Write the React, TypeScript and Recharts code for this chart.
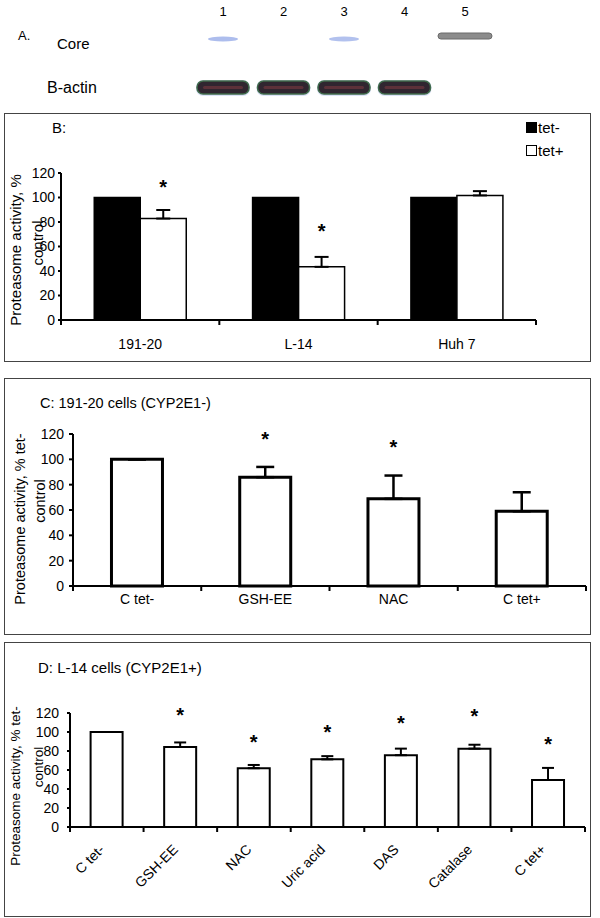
import React from 'react';
import {
  ComposedChart,
  Bar,
  XAxis,
  YAxis,
  ErrorBar,
  Legend,
  ScatterChart,
  Scatter,
} from 'recharts';

const FONT = '"Liberation Sans", Arial, Helvetica, sans-serif';

// A: western blot, relative band signal per lane
const lanes = [1, 2, 3, 4, 5];
const coreSignal = [0.35, 0, 0.3, 0, 1];
const actinSignal = [1, 1, 1, 1, 0];

// B: proteasome activity, tet- vs tet+
const cellLines = ['191-20', 'L-14', 'Huh 7'];
const tetMinus = [100, 100, 100];
const tetPlus = [82.8, 43.4, 101.7];
const tetPlusErr = [7, 8.1, 3.5];
const tetPlusStar = [112, 76, null];

// C: 191-20 cells (CYP2E1-)
const cTreatments = ['C tet-', 'GSH-EE', 'NAC', 'C tet+'];
const cActivity = [100, 85.9, 68.8, 59];
const cErr = [0, 8.1, 18.4, 15];
const cStar = [null, 119.5, 113, null];

// D: L-14 cells (CYP2E1+)
const dTreatments = ['C tet-', 'GSH-EE', 'NAC', 'Uric acid', 'DAS', 'Catalase', 'C tet+'];
const dActivity = [100, 84.2, 61.9, 71.2, 75.6, 82.5, 49.5];
const dErr = [0, 4.8, 3.4, 3.4, 6.9, 4.1, 12.7];
const dStar = [null, 122.1, 94.2, 104.6, 113.4, 121.3, 91.1];

const yTicks = [0, 20, 40, 60, 80, 100, 120];
const legendOrder = ['tet-', 'tet+'];

const blotData = [
  ...lanes.map((lane, i) => ({ lane, row: 1, signal: coreSignal[i], band: 'core' })),
  ...lanes.map((lane, i) => ({ lane, row: 0, signal: actinSignal[i], band: 'actin' })),
].filter((d) => d.signal > 0);

const bData = cellLines.map((name, i) => ({
  name,
  tetMinus: tetMinus[i],
  tetPlus: tetPlus[i],
  err: [0, tetPlusErr[i]],
}));

const cData = cTreatments.map((name, i) => ({ name, value: cActivity[i], err: [0, cErr[i]] }));
const dData = dTreatments.map((name, i) => ({ name, value: dActivity[i], err: [0, dErr[i]] }));

const axisStroke = { stroke: '#000', strokeWidth: 2 };
const tickFont = { fill: '#000', fontSize: 14, fontFamily: FONT };

const renderBand = (props: any) => {
  const { cx, cy, payload } = props;
  if (payload.band === 'core') {
    if (payload.signal >= 1) {
      return <rect x={cx - 27} y={cy - 5} width={54} height={6} rx={3} fill="#8c8c8c" stroke="#6b6b6b" />;
    }
    return <ellipse cx={cx} cy={cy + 1} rx={15} ry={2.5} fill="#9fb2ea" opacity={0.5 + payload.signal} />;
  }
  return (
    <g>
      <rect x={cx - 27} y={cy - 8} width={54} height={16} rx={7} fill="#b8c4f0" opacity={0.5} />
      <rect x={cx - 26} y={cy - 7} width={52} height={13} rx={6} fill="#302630" stroke="#3f6a4a" strokeWidth={1.5} />
      <rect x={cx - 20} y={cy - 2} width={40} height={3} rx={1.5} fill="#7a3840" opacity={0.6} />
    </g>
  );
};

// category label plus the tick marks between categories (Excel style)
const categoryTick = (gap: number, angle = 0) => (props: any) => {
  const { x, y, payload, index, visibleTicksCount, width } = props;
  const band = payload && payload.offset ? payload.offset * 2 : width / visibleTicksCount;
  const axisY = y - gap;
  const marks = [x - band / 2];
  if (index === visibleTicksCount - 1) marks.push(x + band / 2);
  const tx = angle ? x - 5 : x;
  return (
    <g>
      {marks.map((mx) => (
        <line key={mx} x1={mx} x2={mx} y1={axisY} y2={axisY + 5} stroke="#000" strokeWidth={2} />
      ))}
      {angle ? (
        <text
          x={tx}
          y={y}
          dy="0.35em"
          textAnchor="end"
          transform={`rotate(${angle} ${tx} ${y})`}
          fontSize={14}
          fontFamily={FONT}
          fill="#000"
        >
          {payload.value}
        </text>
      ) : (
        <text x={x} y={y} dy="0.71em" textAnchor="middle" fontSize={14} fontFamily={FONT} fill="#000">
          {payload.value}
        </text>
      )}
    </g>
  );
};

// asterisk placed at a given activity level above the bar
const starLabel = (values: number[], stars: (number | null)[]) => (props: any) => {
  const index = props.index;
  const star = stars[index];
  if (star == null) return null;
  const vb = props.viewBox ?? props;
  const { x, y, width, height } = vb;
  const base = y + height;
  const cy = base - (star * height) / values[index];
  return (
    <text x={x + width / 2} y={cy + 11} textAnchor="middle" fontSize={20} fontWeight="bold" fontFamily={FONT} fill="#000">
      *
    </text>
  );
};

const yLabel = (lines: { text: string; x: number; y: number }[], fontSize: number) => () => (
  <g>
    {lines.map((l) => (
      <text
        key={l.text}
        x={l.x}
        y={l.y}
        transform={`rotate(-90 ${l.x} ${l.y})`}
        textAnchor="middle"
        dominantBaseline="central"
        fontSize={fontSize}
        fontFamily={FONT}
        fill="#000"
      >
        {l.text}
      </text>
    ))}
  </g>
);

const renderLegend = (props: any) => {
  const items = [...(props.payload || [])].sort(
    (a: any, b: any) => legendOrder.indexOf(a.value) - legendOrder.indexOf(b.value)
  );
  return (
    <div style={{ fontFamily: FONT, fontSize: 15, color: '#000' }}>
      {items.map((entry: any) => (
        <div key={entry.value} style={{ display: 'flex', alignItems: 'center', height: 23 }}>
          <span
            style={{
              display: 'inline-block',
              width: 9,
              height: 9,
              background: entry.color,
              border: '1px solid #000',
              marginRight: 1,
            }}
          />
          <span>{entry.value}</span>
        </div>
      ))}
    </div>
  );
};

const boxStyle = (top: number, height: number): React.CSSProperties => ({
  position: 'absolute',
  left: 4,
  top,
  width: 587,
  height,
  border: '1px solid #444',
  boxSizing: 'border-box',
});

const textAt = (left: number, centerY: number, fontSize: number): React.CSSProperties => ({
  position: 'absolute',
  left,
  top: centerY - fontSize / 2,
  fontSize,
  lineHeight: `${fontSize}px`,
  fontFamily: FONT,
  color: '#000',
  whiteSpace: 'nowrap',
});

const place = (top: number): React.CSSProperties => ({ position: 'absolute', left: 0, top });

export default function App() {
  return (
    <div
      style={{
        position: 'absolute',
        left: 0,
        top: 0,
        width: 600,
        height: 918,
        background: '#fff',
        overflow: 'hidden',
      }}
    >
      {/* A: blot */}
      <div style={textAt(18, 35, 13)}>A.</div>
      <div style={textAt(57, 43, 15)}>Core</div>
      <div style={textAt(47, 88, 16)}>B-actin</div>
      <div style={place(0)}>
        <ScatterChart width={600} height={110} margin={{ top: 18, right: 135, bottom: 22, left: 223 }}>
          <XAxis
            dataKey="lane"
            type="number"
            domain={[1, 5]}
            ticks={lanes}
            orientation="top"
            height={20}
            axisLine={false}
            tickLine={false}
            tickSize={0}
            tickMargin={22}
            tick={{ fill: '#000', fontSize: 13, fontFamily: FONT }}
          />
          <YAxis dataKey="row" type="number" domain={[0, 1]} hide />
          <Scatter data={blotData} shape={renderBand} isAnimationActive={false} />
        </ScatterChart>
      </div>

      {/* B */}
      <div style={boxStyle(113, 249)} />
      <div style={textAt(52, 127, 15)}>B:</div>
      <div style={place(112)}>
        <ComposedChart
          width={600}
          height={250}
          data={bData}
          margin={{ top: 61, right: 64, bottom: 41, left: 0 }}
          barCategoryGap="21%"
          barGap={0}
        >
          <XAxis
            dataKey="name"
            height={1}
            interval={0}
            axisLine={axisStroke}
            tickLine={false}
            tickSize={0}
            tickMargin={19}
            tick={categoryTick(19)}
          />
          <YAxis
            width={61}
            domain={[0, 120]}
            ticks={yTicks}
            interval={0}
            tickSize={3}
            tickMargin={3}
            tick={tickFont}
            axisLine={axisStroke}
            tickLine={axisStroke}
            label={yLabel(
              [
                { text: 'Proteasome activity, %', x: 15, y: 138 },
                { text: 'control', x: 37, y: 131 },
              ],
              15
            )}
          />
          <Legend
            layout="horizontal"
            verticalAlign="middle"
            align="center"
            content={renderLegend}
            wrapperStyle={{ left: 526, top: 4, width: 60, height: 46 }}
          />
          <Bar dataKey="tetMinus" name="tet-" fill="#000" stroke="#000" strokeWidth={1.5} isAnimationActive={false} />
          <Bar
            dataKey="tetPlus"
            name="tet+"
            fill="#fff"
            stroke="#000"
            strokeWidth={1.5}
            isAnimationActive={false}
            label={starLabel(tetPlus, tetPlusStar)}
          >
            <ErrorBar dataKey="err" width={7} stroke="#000" strokeWidth={2} isAnimationActive={false} />
          </Bar>
        </ComposedChart>
      </div>

      {/* C */}
      <div style={boxStyle(378, 257)} />
      <div style={textAt(40, 403, 14.5)}>C: 191-20 cells (CYP2E1-)</div>
      <div style={place(378)}>
        <ComposedChart
          width={600}
          height={258}
          data={cData}
          margin={{ top: 56, right: 14, bottom: 49, left: 0 }}
          barCategoryGap="30%"
        >
          <XAxis
            dataKey="name"
            height={1}
            interval={0}
            axisLine={axisStroke}
            tickLine={false}
            tickSize={0}
            tickMargin={8}
            tick={categoryTick(8)}
          />
          <YAxis
            width={73}
            domain={[0, 120]}
            ticks={yTicks}
            interval={0}
            tickSize={4}
            tickMargin={5}
            tick={tickFont}
            axisLine={axisStroke}
            tickLine={axisStroke}
            label={yLabel(
              [
                { text: 'Proteasome activity, % tet-', x: 20, y: 141 },
                { text: 'control', x: 40, y: 123 },
              ],
              14.5
            )}
          />
          <Bar
            dataKey="value"
            fill="#fff"
            stroke="#000"
            strokeWidth={3}
            isAnimationActive={false}
            label={starLabel(cActivity, cStar)}
          >
            <ErrorBar dataKey="err" width={9} stroke="#000" strokeWidth={2.5} isAnimationActive={false} />
          </Bar>
        </ComposedChart>
      </div>

      {/* D */}
      <div style={boxStyle(642, 275)} />
      <div style={textAt(38, 667, 15)}>D: L-14 cells (CYP2E1+)</div>
      <div style={place(642)}>
        <ComposedChart
          width={600}
          height={276}
          data={dData}
          margin={{ top: 71, right: 15, bottom: 90, left: 0 }}
          barCategoryGap="28%"
        >
          <XAxis
            dataKey="name"
            height={1}
            interval={0}
            axisLine={axisStroke}
            tickLine={false}
            tickSize={0}
            tickMargin={20}
            tick={categoryTick(20, -45)}
          />
          <YAxis
            width={70}
            domain={[0, 120]}
            ticks={yTicks}
            interval={0}
            tickSize={3}
            tickMargin={8}
            tick={tickFont}
            axisLine={axisStroke}
            tickLine={axisStroke}
            label={yLabel(
              [
                { text: 'Proteasome activity, % tet-', x: 15, y: 144 },
                { text: 'control', x: 38, y: 125 },
              ],
              13.5
            )}
          />
          <Bar
            dataKey="value"
            fill="#fff"
            stroke="#000"
            strokeWidth={2}
            isAnimationActive={false}
            label={starLabel(dActivity, dStar)}
          >
            <ErrorBar dataKey="err" width={6} stroke="#000" strokeWidth={2} isAnimationActive={false} />
          </Bar>
        </ComposedChart>
      </div>
    </div>
  );
}
